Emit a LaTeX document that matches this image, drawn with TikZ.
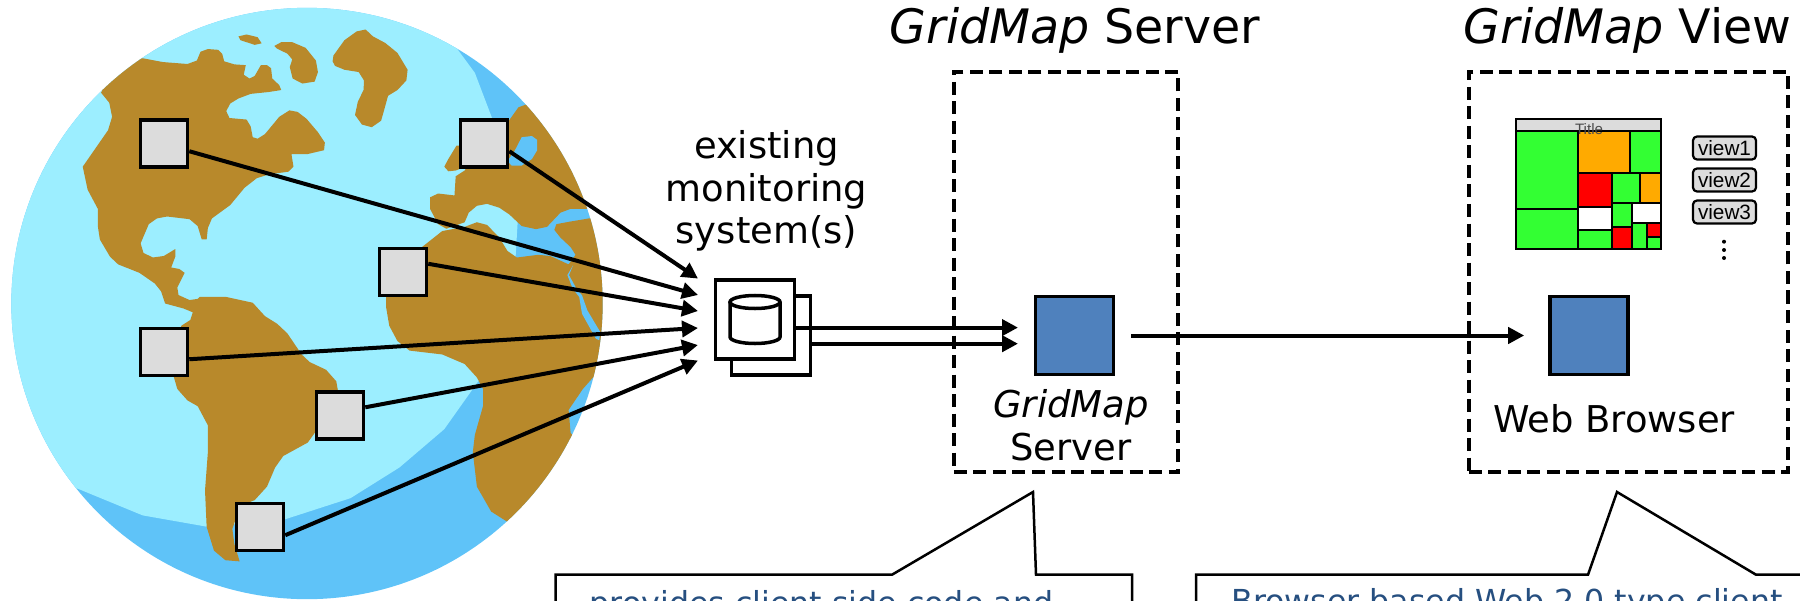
\documentclass[tikz,border=0pt]{standalone}
\usepackage{fontspec}
\setmainfont{DejaVu Sans}
\newfontfamily\viewfont{Liberation Sans}
\usetikzlibrary{arrows.meta}
\definecolor{landbrown}{HTML}{B8892B}
\definecolor{oceanlight}{HTML}{9CEEFF}
\definecolor{oceandark}{HTML}{5FC3F8}
\definecolor{hostgray}{HTML}{DCDCDC}
\definecolor{serverblue}{HTML}{4F81BD}
\definecolor{calloutblue}{HTML}{264F80}
\definecolor{tilegreen}{HTML}{33FF33}
\definecolor{tileorange}{HTML}{FFAA00}
\definecolor{tilered}{HTML}{FF0000}
\tikzset{
    mapunits/.style={x=0.00408cm,y=-0.003827cm},
    host/.style={draw,line width=0.035cm,fill=hostgray,minimum size=0.47cm,inner sep=0pt},
    flow/.style={line width=0.04cm,-{Triangle[length=0.16cm,width=0.16cm]}},
    zone/.style={draw,line width=0.045cm,dash pattern=on 0.13cm off 0.065cm,minimum width=2.24cm,minimum height=4cm},
    blue box/.style={draw,line width=0.035cm,fill=serverblue,minimum size=0.78cm,inner sep=0pt},
    db box/.style={draw,line width=0.035cm,fill=white,minimum size=0.79cm,inner sep=0pt},
    title text/.style={inner sep=0pt,anchor=base,font=\fontsize{13.5}{16}\selectfont},
    body text/.style={inner sep=0pt,align=center,font=\fontsize{10.5}{12.1}\selectfont},
    callout box/.style={draw,line width=0.025cm,fill=white},
    callout text/.style={inner sep=0pt,anchor=base,text=calloutblue,font=\fontsize{9}{11}\selectfont},
    tile/.style={draw,line width=0.022cm},
    view tab/.style={draw,line width=0.022cm,fill=hostgray,rounded corners=0.04cm,minimum width=0.63cm,minimum height=0.23cm,inner sep=0pt,font=\viewfont\fontsize{5.9}{7}\selectfont}
}
\begin{document}
\begin{tikzpicture}[x=0.01cm,y=-0.01cm]
    \useasboundingbox (0,0) rectangle (1800,600);
    \clip (0,0) rectangle (1800,600);
    \begin{scope}
	\clip (307,303.5) circle [radius=2.955cm];
	\fill [oceandark] (0,0) rectangle (620,620);
	\begin{scope}[mapunits]
	    \fill [oceanlight] (190,1275) -- (350,1345) -- (510,1375) -- (700,1355) -- (860,1300) -- (980,1220) -- (1090,1120) -- (1150,1030) -- (1180,985) -- (1265,670) -- (1270,580) -- (1240,400) -- (1165,190) -- (1120,125) -- (1120,-50) -- (-100,-50) -- (-100,1275) -- cycle;
	    \fill [landbrown] (350,152) -- (400,162) -- (460,167) -- (483,158) -- (492,135) -- (510,128) -- (535,130) -- (545,140) -- (550,160) -- (575,168) -- (603,170) -- (598,195) -- (612,205) -- (625,198) -- (640,170) -- (655,170) -- (665,178) -- (668,205) -- (685,222) -- (690,235) -- (660,240) -- (615,245) -- (585,257) -- (565,270) -- (555,290) -- (563,308) -- (605,312) -- (615,330) -- (620,358) -- (632,362) -- (650,350) -- (685,305) -- (710,288) -- (730,292) -- (752,310) -- (780,345) -- (797,372) -- (795,392) -- (755,402) -- (715,402) -- (720,435) -- (708,448) -- (660,455) -- (630,465) -- (600,490) -- (565,535) -- (520,570) -- (510,595) -- (507,625) -- (495,625) -- (485,590) -- (465,572) -- (410,565) -- (385,570) -- (365,585) -- (345,635) -- (352,660) -- (375,672) -- (402,668) -- (430,650) -- (430,670) -- (420,698) -- (440,702) -- (453,712) -- (435,750) -- (438,770) -- (465,783) -- (485,780) -- (490,775) -- (555,775) -- (620,790) -- (650,825) -- (680,845) -- (705,870) -- (740,925) -- (760,945) -- (800,965) -- (825,995) -- (830,1025) -- (772,1130) -- (755,1155) -- (695,1190) -- (675,1220) -- (655,1270) -- (625,1305) -- (590,1320) -- (570,1380) -- (575,1420) -- (588,1465) -- (553,1462) -- (525,1437) -- (507,1375) -- (503,1280) -- (510,1180) -- (510,1110) -- (485,1060) -- (460,1045) -- (435,1015) -- (420,960) -- (430,900) -- (445,850) -- (467,835) -- (473,815) -- (450,805) -- (405,792) -- (395,760) -- (380,740) -- (342,712) -- (290,690) -- (270,670) -- (245,625) -- (240,590) -- (240,545) -- (215,495) -- (203,435) -- (265,340) -- (275,305) -- (268,268) -- (248,242) -- (280,170) -- cycle;
	    \fill [landbrown] (585,95) -- (605,90) -- (632,97) -- (642,113) -- (625,117) -- (590,105) -- cycle;
	    \fill [landbrown] (673,120) -- (690,110) -- (717,110) -- (750,125) -- (775,158) -- (780,188) -- (772,213) -- (742,218) -- (718,205) -- (711,175) -- (717,155) -- (705,140) -- (680,127) -- cycle;
	    \fill [landbrown] (818,145) -- (845,105) -- (875,82) -- (897,77) -- (915,95) -- (945,112) -- (975,138) -- (1000,182) -- (997,210) -- (975,235) -- (952,250) -- (943,285) -- (935,315) -- (912,332) -- (888,325) -- (871,300) -- (878,265) -- (892,235) -- (893,210) -- (880,188) -- (845,182) -- (822,172) -- (816,160) -- cycle;
	    \fill [landbrown] (1120,380) -- (1100,415) -- (1090,435) -- (1100,447) -- (1118,445) -- (1130,440) -- (1130,380) -- cycle;
	    \fill [landbrown] (1290,273) -- (1272,280) -- (1245,320) -- (1230,350) -- (1180,380) -- (1140,445) -- (1118,460) -- (1115,510) -- (1075,505) -- (1055,515) -- (1055,545) -- (1075,585) -- (1095,597) -- (1140,580) -- (1150,555) -- (1170,537) -- (1195,532) -- (1225,542) -- (1250,560) -- (1280,590) -- (1315,598) -- (1342,592) -- (1375,555) -- (1400,545) -- (1445,545) -- (1520,545) -- (1520,273) -- cycle;
	    \fill [landbrown] (1035,645) -- (1085,603) -- (1140,592) -- (1170,580) -- (1195,587) -- (1225,620) -- (1245,655) -- (1268,672) -- (1320,665) -- (1350,668) -- (1395,690) -- (1412,665) -- (1400,645) -- (1375,620) -- (1360,600) -- (1365,585) -- (1400,578) -- (1445,570) -- (1520,570) -- (1520,985) -- (1455,985) -- (1430,1015) -- (1395,1070) -- (1400,1130) -- (1410,1140) -- (1390,1200) -- (1350,1260) -- (1300,1320) -- (1245,1362) -- (1205,1335) -- (1170,1270) -- (1160,1180) -- (1165,1135) -- (1185,1060) -- (1185,1015) -- (1170,985) -- (1140,950) -- (1085,925) -- (1005,915) -- (975,890) -- (955,850) -- (947,800) -- (947,740) -- (1000,680) -- cycle;
	    \fill [oceandark] (1245,420) -- (1262,395) -- (1280,358) -- (1305,355) -- (1318,365) -- (1318,392) -- (1305,415) -- (1280,432) -- (1255,432) -- cycle;
	    \fill [oceandark] (1406,692) -- (1392,718) -- (1405,753) -- (1421,775) -- (1428,819) -- (1462,884) -- (1470,888) -- (1473,867) -- (1441,810) -- (1428,771) -- (1413,751) -- (1396,718) -- cycle;
	\end{scope}
    \end{scope}
    \path (164,143.5) node [host] (hosta) {};
    \path (484,143.5) node [host] (hostb) {};
    \path (403,272) node [host] (hostc) {};
    \path (164,352) node [host] (hostd) {};
    \path (340,415.5) node [host] (hoste) {};
    \path (260,527) node [host] (hostf) {};
    \path (771,335.5) node [db box] (dbback) {};
    \path (755,319.5) node [db box] (dbfront) {};
    \draw [line width=0.035cm] (730,302) -- (730,337) arc [start angle=180,end angle=360,x radius=0.25cm,y radius=0.065cm] -- (780,302);
    \draw [line width=0.035cm] (755,302) ellipse [x radius=0.25cm,y radius=0.065cm];
    \path (1074.5,335.5) node [blue box] (server) {};
    \path (1589,335.5) node [blue box] (browser) {};
    \path (1066,272) node [zone] (serverzone) {};
    \path (1628.5,272) node [zone,minimum width=3.19cm] (viewzone) {};
    \coordinate (tipb) at (698,278.6);
    \coordinate (tipa) at (698,295);
    \coordinate (tipc) at (698,311);
    \coordinate (tipd) at (698,328);
    \coordinate (tipe) at (698,345);
    \coordinate (tipf) at (698,360.5);
    \coordinate (tipupper) at (1018,327.6);
    \coordinate (tiplower) at (1018,343.7);
    \draw [flow] (hostb.-17) -- (tipb);
    \draw [flow] (hosta.-17) -- (tipa);
    \draw [flow] (hostc.18) -- (tipc);
    \draw [flow] (hostd.-16) -- (tipd);
    \draw [flow] (hoste.18) -- (tipe);
    \draw [flow] (hostf.-18) -- (tipf);
    \draw [flow] (tipupper -| dbfront.east) -- (tipupper);
    \draw [flow] (tiplower -| dbback.east) -- (tiplower);
    \draw [flow,shorten <=0.16cm,shorten >=0.24cm] (server) -- (browser);
    \path (1075,43.5) node [title text] (servertitle) {\textit{GridMap} Server};
    \path (1627.5,43.5) node [title text] (viewtitle) {\textit{GridMap} View};
    \path (766.5,191) node [body text] (existing) {existing\\monitoring\\system(s)};
    \path (1071,425.5) node [body text] (serverlabel) {\textit{GridMap}\\Server};
    \path (1614,432) node [body text,anchor=base] (browserlabel) {Web Browser};
    \draw [tile,fill=hostgray] (1516,119) rectangle (1661.3,130.7);
    \draw [tile,fill=tilegreen] (1516,130.7) rectangle (1578.3,208.7);
    \draw [tile,fill=tilegreen] (1516,208.7) rectangle (1578.3,249);
    \draw [tile,fill=tileorange] (1578.3,130.7) rectangle (1630,173.3);
    \draw [tile,fill=tilegreen] (1630,130.7) rectangle (1661.3,173.3);
    \draw [tile,fill=tilered] (1578.3,173.3) rectangle (1612.3,206.7);
    \draw [tile,fill=tilegreen] (1612.3,173.3) rectangle (1640,202.7);
    \draw [tile,fill=tileorange] (1640,173.3) rectangle (1661.3,202.7);
    \draw [tile,fill=white] (1578.3,206.7) rectangle (1612.3,230);
    \draw [tile,fill=tilegreen] (1578.3,230) rectangle (1612.3,249);
    \draw [tile,fill=tilegreen] (1612.3,202.7) rectangle (1632.3,226.7);
    \draw [tile,fill=white] (1632.3,202.7) rectangle (1661.3,222.7);
    \draw [tile,fill=tilered] (1612.3,226.7) rectangle (1632.3,249);
    \draw [tile,fill=tilegreen] (1632.3,222.7) rectangle (1646.7,249);
    \draw [tile,fill=tilered] (1646.7,222.7) rectangle (1661.3,236.7);
    \draw [tile,fill=tilegreen] (1646.7,236.7) rectangle (1661.3,249);
    \path (1589,134) node [inner sep=0pt,anchor=base,text=black!70,font=\viewfont\fontsize{4.3}{5}\selectfont] (treetitle) {Title};
    \path (1724.5,148) node [view tab] (viewone) {view1};
    \path (1724.5,180) node [view tab] (viewtwo) {view2};
    \path (1724.5,212) node [view tab] (viewthree) {view3};
    \fill (1724,241.7) circle [radius=0.02cm];
    \fill (1724,250) circle [radius=0.02cm];
    \fill (1724,258) circle [radius=0.02cm];
    \draw [callout box] (555.5,620) -- (555.5,574.7) -- (892,574.7) -- (1033,492) -- (1036,574.7) -- (1132,574.7) -- (1132,620) -- cycle;
    \draw [callout box] (1196,620) -- (1196,574.7) -- (1588,574.7) -- (1617,492) -- (1756,574.7) -- (1820,574.7) -- (1820,620) -- cycle;
    \path (821.5,614) node [callout text] (servernote) {provides client side code and};
    \path (1507,612) node [callout text] (viewnote) {Browser based Web 2.0 type client};
\end{tikzpicture}
\end{document}
